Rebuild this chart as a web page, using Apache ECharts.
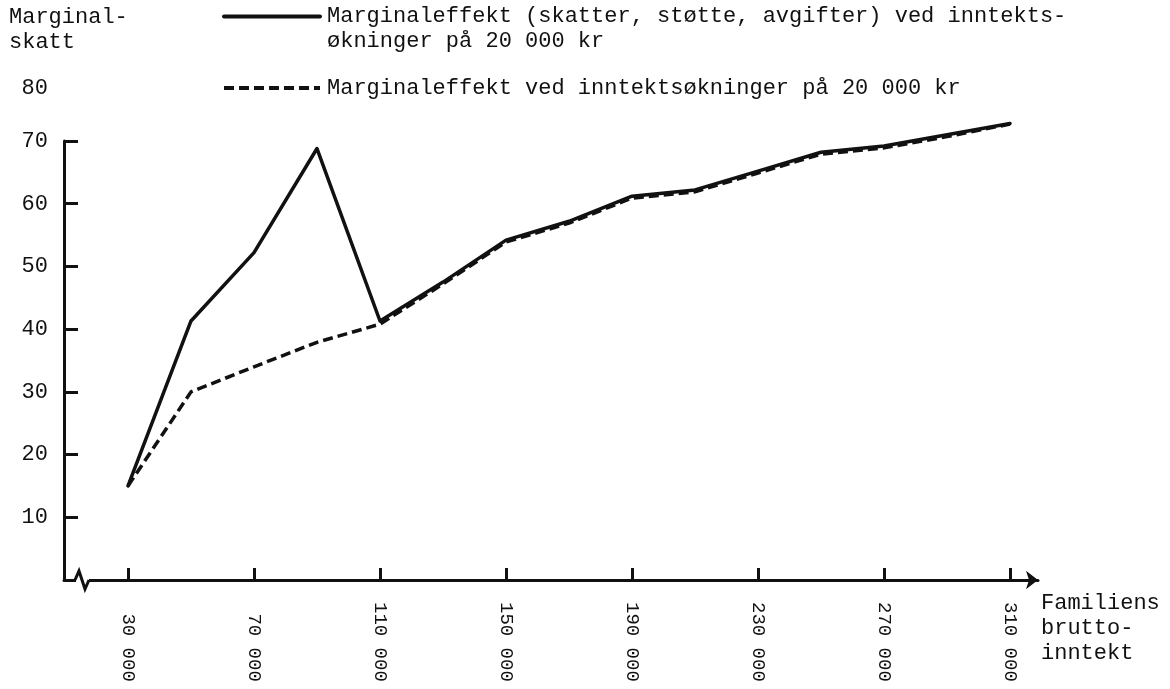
<!DOCTYPE html>
<html lang="no">
<head>
  <meta charset="UTF-8">
  <script src="https://cdn.jsdelivr.net/npm/echarts@6.0.0/dist/echarts.min.js"></script>
  <title>Marginalskatt</title>
</head>
<body>
  <div id="chart"></div>
</body>
<style>
  html, body {
    padding: 0;
    margin: 0;
    background: #fff;
  }
  #chart {
    width: 1170px;
    height: 689px;
  }
</style>
</html>
<script>
// familiens bruttoinntekt (kr)
const income = [30000, 50000, 70000, 90000, 110000, 130000, 150000, 170000,
  190000, 210000, 230000, 250000, 270000, 290000, 310000]
// skatter, støtte, avgifter
const totalEffect = [15, 41.3, 52.2, 68.8, 41.3, 47.5, 54.2, 57.2, 61.2, 62.2, 65.2, 68.2, 69.2, 71, 72.8]
// bare skatt
const taxEffect = [15, 30, 34, 37.9, 40.8, 47.2, 53.9, 56.9, 60.9, 61.9, 64.9, 67.9, 68.9, 70.7, 72.7]

const xTicks = [30000, 70000, 110000, 150000, 190000, 230000, 270000, 310000]
const xTickLabels = ['30 000', '70 000', '110 000', '150 000', '190 000', '230 000', '270 000', '310 000']
const yTicks = [10, 20, 30, 40, 50, 60, 70]

const names = [
  'Marginaleffekt (skatter, støtte, avgifter) ved inntekts-\nøkninger på 20 000 kr',
  'Marginaleffekt ved inntektsøkninger på 20 000 kr'
]

const font = '"Liberation Mono", "DejaVu Sans Mono", monospace'
const ink = '#111'

const option = {
  animation: false,
  title: {
    text: 'Marginal-\nskatt',
    left: 9,
    top: 5,
    padding: 0,
    textStyle: { fontFamily: font, fontSize: 22, fontWeight: 'normal', color: ink, lineHeight: 25 }
  },
  legend: {
    orient: 'vertical',
    left: 222,
    top: -21,
    padding: 0,
    itemWidth: 96,
    itemHeight: 14,
    itemGap: 21.5,
    selectedMode: false,
    // tom linje først, slik at ikonet står ved første tekstlinje
    formatter: (name) => (name === names[0] ? ' \n' + name : name),
    itemStyle: { opacity: 0 },
    lineStyle: { width: 4 },
    textStyle: { fontFamily: font, fontSize: 22, color: ink, lineHeight: 25, padding: [0, 0, 0, 2] },
    data: names
  },
  grid: {
    left: 64,
    top: 141,
    right: 132,
    bottom: 109
  },
  xAxis: {
    type: 'value',
    min: 9683,
    max: 318889,
    splitLine: { show: false },
    axisLine: {
      show: true,
      symbol: ['none', 'arrow'],
      symbolSize: [14, 12],
      lineStyle: { color: ink, width: 3 }
    },
    axisTick: {
      show: true,
      inside: true,
      length: 12,
      customValues: xTicks,
      lineStyle: { color: ink, width: 3 }
    },
    axisLabel: {
      customValues: xTicks,
      rotate: -90,
      margin: 22,
      fontFamily: font,
      fontSize: 19,
      color: ink,
      formatter: (value) => {
        const label = xTickLabels[xTicks.indexOf(value)] || ''
        return label.padStart(7, ' ')
      }
    },
    name: 'Familiens\nbrutto-\ninntekt',
    nameLocation: 'end',
    nameGap: 3,
    nameTextStyle: {
      fontFamily: font,
      fontSize: 22,
      color: ink,
      lineHeight: 25,
      align: 'left',
      verticalAlign: 'top',
      padding: [11, 0, 0, 0]
    }
  },
  yAxis: {
    type: 'value',
    min: 0,
    max: 70,
    interval: 10,
    splitLine: { show: false },
    axisLine: { show: true, lineStyle: { color: ink, width: 3 } },
    axisTick: {
      show: true,
      inside: true,
      length: 14,
      customValues: yTicks,
      lineStyle: { color: ink, width: 3 }
    },
    axisLabel: {
      customValues: yTicks,
      margin: 16,
      fontFamily: font,
      fontSize: 22,
      color: ink
    },
    name: '80',
    nameLocation: 'end',
    nameGap: 53,
    nameTextStyle: {
      fontFamily: font,
      fontSize: 22,
      color: ink,
      align: 'right',
      verticalAlign: 'middle',
      padding: [0, 16, 0, 0]
    }
  },
  series: [
    {
      name: names[0],
      type: 'line',
      data: income.map((x, i) => [x, totalEffect[i]]),
      symbol: 'none',
      clip: false,
      z: 3,
      itemStyle: { color: ink },
      lineStyle: { color: ink, width: 3.5, join: 'round', cap: 'round' },
      emphasis: { disabled: true }
    },
    {
      name: names[1],
      type: 'line',
      data: income.map((x, i) => [x, taxEffect[i]]),
      symbol: 'none',
      clip: false,
      z: 2,
      itemStyle: { color: ink },
      lineStyle: { color: ink, width: 3.5, type: [10, 5], join: 'round' },
      emphasis: { disabled: true }
    }
  ],
  // brudd i x-aksen
  graphic: [
    {
      type: 'rect',
      z: 100,
      shape: { x: 76, y: 577, width: 13, height: 6 },
      style: { fill: '#fff' }
    },
    {
      type: 'polyline',
      z: 101,
      shape: { points: [[75, 580], [79, 571], [85, 589], [89, 580]] },
      style: { stroke: ink, lineWidth: 3, fill: null }
    }
  ]
};

const chartDom = document.getElementById('chart');
const myChart = echarts.init(chartDom);
option && myChart.setOption(option);

window.onresize = function() {
  myChart.resize();
};
</script>
